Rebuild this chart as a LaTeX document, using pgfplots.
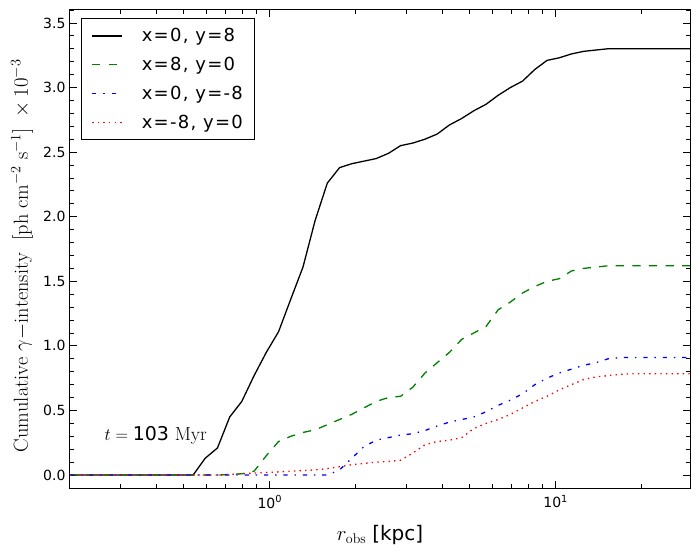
\documentclass[border=0pt]{standalone}
\usepackage{fontspec}
\usepackage{pgfplots}
\usepackage{pgfplotstable}
\pgfplotsset{compat=1.18}
\newfontfamily\dv{DejaVu Sans}
\newfontfamily\dvleg[LetterSpace=7]{DejaVu Sans}
\definecolor{mgreen}{rgb}{0,0.5,0}

\pgfplotstableread{
x      a     b      c     d
0.2    0     0      0     0
0.539  0     0      0     0
0.594  0.13  0      0     0
0.656  0.21  0      0     0
0.724  0.45  0.005  0     0.005
0.798  0.57  0.01   0     0.01
0.881  0.77  0.03   0     0.015
0.972  0.95  0.15   0     0.02
1.073  1.11  0.26   0     0.025
1.183  1.36  0.30   0     0.03
1.306  1.61  0.33   0     0.035
1.440  1.97  0.35   0     0.04
1.589  2.26  0.39   0     0.05
1.754  2.38  0.43   0.04  0.065
1.934  2.41  0.47   0.13  0.08
2.134  2.43  0.52   0.22  0.09
2.355  2.45  0.57   0.27  0.10
2.598  2.49  0.60   0.29  0.105
2.867  2.55  0.61   0.31  0.115
3.163  2.57  0.68   0.32  0.17
3.490  2.60  0.79   0.345 0.235
3.851  2.64  0.87   0.38  0.26
4.248  2.71  0.95   0.41  0.27
4.688  2.76  1.05   0.43  0.29
5.171  2.82  1.10   0.45  0.36
5.706  2.87  1.15   0.49  0.40
6.295  2.94  1.28   0.54  0.43
6.946  3.00  1.34   0.58  0.47
7.663  3.05  1.41   0.63  0.52
8.455  3.14  1.46   0.70  0.57
9.329  3.21  1.50   0.75  0.61
10.29  3.23  1.52   0.79  0.66
11.36  3.26  1.58   0.82  0.70
12.53  3.28  1.60   0.85  0.74
13.82  3.29  1.61   0.87  0.76
15.25  3.30  1.62   0.90  0.77
16.83  3.30  1.62   0.91  0.78
18.57  3.30  1.62   0.91  0.785
20.48  3.30  1.62   0.91  0.785
22.60  3.30  1.62   0.91  0.785
24.93  3.30  1.62   0.91  0.785
27.51  3.30  1.62   0.91  0.785
29.5   3.30  1.62   0.91  0.785
}\data

\begin{document}
\begin{tikzpicture}
\useasboundingbox (0,0) rectangle (700pt,556pt);
\begin{axis}[
  at={(70pt,68pt)}, anchor=south west,
  scale only axis, width=620pt, height=478pt,
  xmode=log, xmin=0.2, xmax=29.5,
  ymin=-0.1, ymax=3.6,
  axis line style={line width=1pt},
  tick align=inside,
  major tick length=7pt, minor tick length=4pt,
  every tick/.style={black, line width=0.8pt},
  xtick={1,10},
  xticklabels={10\textsuperscript{0},10\textsuperscript{1}},
  minor xtick={0.3,0.4,0.5,0.6,0.7,0.8,0.9,2,3,4,5,6,7,8,9,20},
  ytick={0,0.5,1,1.5,2,2.5,3,3.5},
  minor ytick={-0.1,0.1,0.2,0.3,0.4,0.6,0.7,0.8,0.9,1.1,1.2,1.3,1.4,1.6,1.7,1.8,1.9,2.1,2.2,2.3,2.4,2.6,2.7,2.8,2.9,3.1,3.2,3.3,3.4,3.6},
  /pgf/number format/assume math mode=true,
  yticklabel={\pgfmathprintnumber[fixed,fixed zerofill,precision=1]{\tick}},
  ticklabel style={font=\dv\fontsize{14}{14}\selectfont},
  xticklabel style={yshift=-4pt},
  yticklabel style={xshift=-1pt},
  every axis y label/.style={at={(axis description cs:-0.0774,0.486)}, anchor=center, rotate=90},
  every axis x label/.style={at={(axis description cs:0.5,-0.098)}, anchor=center},
  ylabel={\fontsize{20.3}{20.3}\selectfont$\mathrm{Cumulative}\ \gamma{-}\mathrm{intensity}\ \ [\mathrm{ph\ cm^{-2}\ s^{-1}}]\ \times10^{-3}$},
  xlabel={\fontsize{20}{20}\selectfont$r_{\mathrm{obs}}$ {\dv [kpc]}},
  legend cell align=left,
  legend image code/.code={\draw[#1] (0pt,0pt) -- (30pt,0pt);},
  legend style={at={(0,1)}, anchor=north west, xshift=11pt, yshift=-8pt,
    draw=black, line width=1pt, font=\dvleg\fontsize{18}{18}\selectfont,
    inner xsep=10pt, inner ysep=8pt, row sep=10pt,
    /tikz/every odd column/.append style={column sep=17pt}},
]
\addplot[black, line width=1.3pt] table[x=x,y=a]{\data};
\addlegendentry{x=0, y=8}
\addplot[mgreen, line width=1.3pt, dash pattern=on 8.3pt off 8.3pt] table[x=x,y=b]{\data};
\addlegendentry{x=8, y=0}
\addplot[blue, line width=1.3pt, dash pattern=on 4.2pt off 6.9pt on 1.4pt off 6.9pt] table[x=x,y=c]{\data};
\addlegendentry{x=0, y=-8}
\addplot[red, line width=1.3pt, dash pattern=on 1.4pt off 4.2pt] table[x=x,y=d]{\data};
\addlegendentry{x=-8, y=0}
\node[anchor=base west, font=\fontsize{19}{19}\selectfont] at (axis cs:0.257,0.264) {$t={}${\dv 103} Myr};
\end{axis}
\end{tikzpicture}
\end{document}
